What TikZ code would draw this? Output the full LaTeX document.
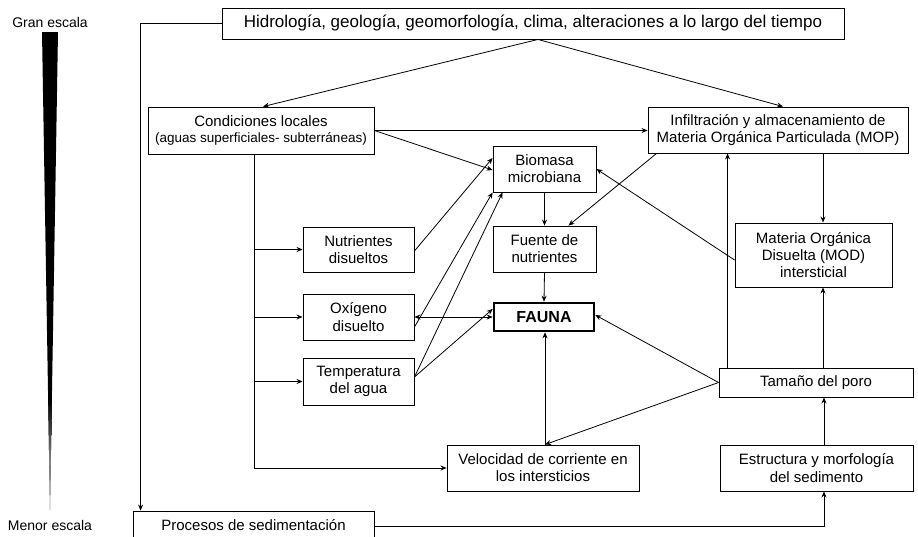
\documentclass[tikz,border=0pt]{standalone}
\usepackage{fontspec}
\setmainfont{Liberation Sans}
\usetikzlibrary{arrows.meta}
\begin{document}
\begin{tikzpicture}[x=1pt,y=-1pt,
  box/.style={draw, line width=0.9pt, inner sep=0pt, align=center,
    font=\fontsize{15}{17.25}\selectfont},
  link/.style={line width=0.8pt, -{Stealth[length=6pt,width=5pt]}},
  scale label/.style={font=\fontsize{14}{16}\selectfont}]
\useasboundingbox (0,0) rectangle (918,536);

% scale bar on the left: a black wedge whose tip fades out
\node[scale label] (gran) at (50,22) {Gran escala};
\node[scale label] (menor) at (50,525) {Menor escala};
\fill[black] (42,32) -- (58,32) -- (50,510) -- cycle;
\shade[top color=black, bottom color=gray!15]
  (48.16,400) -- (51.84,400) -- (50,510) -- cycle;

% boxes
\node[box, minimum width=622pt, minimum height=31pt,
  font=\fontsize{17}{19}\selectfont] (top) at (533,23.5)
  {Hidrología, geología, geomorfología, clima, alteraciones a lo largo del tiempo};
\node[box, minimum width=226pt, minimum height=47pt] (cond) at (261,130.5)
  {Condiciones locales\\[-1pt]{\fontsize{13.5}{15}\selectfont (aguas superficiales- subterráneas)}};
\node[box, minimum width=260pt, minimum height=46pt] (infil) at (778,130)
  {Infiltración y almacenamiento de\\Materia Orgánica Particulada (MOP)};
\node[box, minimum width=103pt, minimum height=46pt] (bio) at (544.5,169)
  {Biomasa\\microbiana};
\node[box, minimum width=103pt, minimum height=46pt] (fuente) at (544.5,249)
  {Fuente de\\nutrientes};
\node[box, minimum width=111pt, minimum height=45pt] (nutr) at (358.5,249.5)
  {Nutrientes\\disueltos};
\node[box, minimum width=111pt, minimum height=46pt] (oxi) at (358.5,317)
  {Oxígeno\\disuelto};
\node[box, minimum width=111pt, minimum height=47pt] (temp) at (358.5,381.5)
  {Temperatura\\del agua};
\node[box, line width=2.6pt, minimum width=100pt, minimum height=28pt,
  font=\fontsize{16}{18}\selectfont\bfseries] (fauna) at (544,317) {FAUNA};
\node[box, minimum width=157pt, minimum height=64pt] (mod) at (813.5,255)
  {Materia Orgánica\\Disuelta (MOD)\\intersticial};
\node[box, minimum width=194pt, minimum height=29pt] (tam) at (816,382.5)
  {Tamaño del poro};
\node[box, minimum width=192pt, minimum height=46pt] (vel) at (543,468)
  {Velocidad de corriente en\\los intersticios};
\node[box, minimum width=193pt, minimum height=46pt] (est) at (816.5,468)
  {Estructura y morfología\\del sedimento};
\node[box, minimum width=241pt, minimum height=28pt] (proc) at (253.5,525)
  {Procesos de sedimentación};

% helper points on box borders
\coordinate (c0) at ([xshift=-7pt]cond.south);
\coordinate (m1) at ([xshift=9.5pt]mod.north);
\coordinate (m2) at ([xshift=7pt]tam.north);
\coordinate (t1) at ([xshift=9pt]tam.north west);
\coordinate (v1) at ([xshift=2pt]vel.north);
\coordinate (e1) at ([xshift=7.5pt]est.north);
\coordinate (e2) at ([xshift=7.5pt]est.south);
\coordinate (p1) at ([xshift=8pt]proc.north west);

% connectors
\draw[link] ([xshift=5pt]top.south) -- ([xshift=2pt]cond.north);
\draw[link] ([xshift=5pt]top.south) -- ([xshift=5pt]infil.north);
\draw[link] (top.west) -| (p1);
\draw[link] (cond.east) -- (cond.east -| infil.west);
\draw[link] (cond.east) -- ([yshift=-1pt]bio.west);
\draw[link] (c0) |- (vel.west);
\draw[link] (nutr.west -| c0) -- (nutr.west);
\draw[link] (oxi.west -| c0) -- (oxi.west);
\draw[link] (temp.west -| c0) -- (temp.west);
\draw[link] ([yshift=-1.5pt]nutr.east) -- ([yshift=11pt]bio.west);
\draw[link] ([yshift=-10pt]oxi.east) -- (bio.south west);
\draw[link] ([yshift=4.5pt]temp.east) -- ([xshift=10pt]bio.south west);
\draw[link] ([yshift=4.5pt]temp.east) -- ([yshift=8pt]fauna.west);
\draw[link, {Stealth[length=6pt,width=5pt]}-{Stealth[length=6pt,width=5pt]}]
  (oxi.east) -- (fauna.west);
\draw[link] (bio.south) -- (fuente.north);
\draw[link] (fuente.south) -- (fauna.north);
\draw[link] ([xshift=9pt]infil.south west) -- ([xshift=-28pt]fuente.north east);
\draw[link] ([yshift=-5pt]mod.west) -- (bio.east);
\draw[link] (m1 |- infil.south) -- (m1);
\draw[link] (m2) -- (m2 |- mod.south);
\draw[link] (t1) -- (t1 |- infil.south);
\draw[link] (tam.west) -- ([yshift=2pt]fauna.east);
\draw[link] (tam.west) -- (v1);
\draw[link] (v1) -- (v1 |- fauna.south);
\draw[link] (e1) -- (e1 |- tam.south);
\draw[link] ([yshift=-1pt]proc.east) -| (e2);
\end{tikzpicture}
\end{document}
